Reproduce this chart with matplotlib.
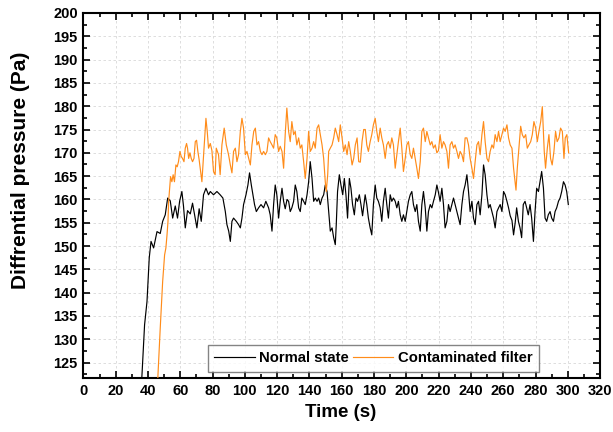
import matplotlib
matplotlib.use("Agg")
import matplotlib.pyplot as plt
from matplotlib.ticker import MultipleLocator

plt.rcParams['font.family'] = ['Liberation Sans', 'DejaVu Sans']

# ---------------- data ----------------
t_normal = [35.5, 36.3, 37.9, 39.4, 40.8, 41.9, 43.5, 45.6, 47.6, 49.1, 50.7, 52.2, 53.8, 55.3, 56.9,
            58.3, 59.6, 61.0, 62.0, 63.1, 64.5, 66.2, 67.6, 68.8, 70.3, 71.7, 73.0, 74.4, 75.9, 77.5,
            78.6, 80.6, 82.7, 84.7, 86.4, 87.9, 88.9, 90.0, 91.0, 92.0, 93.0, 94.7, 96.1, 97.2, 98.2,
            99.2, 100.7, 101.9, 102.9, 104.0, 105.0, 106.0, 107.1, 108.5, 110.0, 111.6, 113.0, 114.7,
            115.7, 116.8, 117.8, 118.8, 119.8, 120.9, 121.9, 123.0, 124.0, 125.0, 126.1, 127.1, 128.1,
            129.1, 130.2, 131.2, 132.2, 133.3, 134.3, 135.3, 136.4, 137.4, 138.5, 139.5, 140.5, 141.6,
            142.6, 143.6, 144.7, 145.7, 146.7, 147.8, 148.8, 149.8, 150.9, 151.9, 152.9, 154.0, 155.0,
            156.0, 156.6, 157.4, 158.5, 159.5, 160.6, 161.6, 162.6, 163.6, 164.7, 165.7, 166.7, 167.8,
            168.8, 169.8, 170.9, 171.9, 172.9, 174.5, 175.5, 176.5, 177.6, 178.6, 179.6, 180.7, 181.7,
            182.7, 183.8, 184.8, 185.8, 186.9, 187.9, 188.9, 190.0, 191.0, 192.0, 193.1, 194.1, 195.1,
            196.2, 197.2, 198.2, 199.3, 200.3, 201.3, 202.4, 203.4, 204.4, 205.5, 206.5, 207.5, 208.6,
            209.6, 210.6, 211.7, 212.7, 213.7, 214.8, 215.8, 216.8, 217.9, 218.9, 219.9, 220.9, 222.0,
            223.0, 224.0, 225.1, 226.1, 227.1, 228.2, 229.2, 230.2, 231.3, 232.3, 233.3, 234.4, 235.4,
            236.4, 237.5, 238.5, 239.5, 240.6, 241.6, 242.6, 243.7, 244.7, 245.7, 246.8, 247.8, 248.8,
            249.9, 250.9, 251.9, 253.0, 254.0, 255.0, 256.1, 257.1, 258.1, 259.2, 260.2, 261.2, 262.3,
            263.3, 264.3, 265.4, 266.4, 267.4, 268.3, 269.4, 270.4, 271.4, 272.4, 273.5, 274.5, 275.5,
            276.6, 277.6, 278.7, 279.7, 280.7, 281.8, 282.8, 283.8, 284.9, 285.9, 286.9, 287.9, 289.0,
            290.0, 291.1, 292.1, 293.1, 294.2, 295.2, 296.2, 297.3, 298.3, 299.3, 300.3]
p_normal = [118.0, 122.4, 133.1, 138.1, 147.5, 151.0, 149.6, 153.1, 152.7, 155.3, 156.7, 160.3, 159.7, 156.0, 158.6,
            156.0, 159.6, 161.7, 158.6, 153.9, 157.6, 156.9, 159.2, 156.9, 153.9, 158.0, 155.3, 161.0, 162.4, 161.0,
            161.7, 161.0, 161.7, 161.0, 160.3, 157.4, 154.6, 153.2, 151.0, 155.3, 156.0, 155.3, 154.6, 153.9, 156.0,
            158.9, 161.0, 163.1, 165.7, 163.1, 161.0, 158.9, 157.4, 158.2, 158.9, 158.2, 159.6, 158.2,
            156.7, 153.2, 158.9, 163.1, 161.0, 156.0, 159.6, 162.4, 159.6, 158.0, 160.0, 159.6, 157.4,
            158.2, 159.6, 163.1, 161.7, 158.2, 157.4, 160.3, 159.6, 158.9, 161.0, 163.8, 168.1, 164.5,
            159.6, 160.3, 159.6, 160.3, 158.9, 160.3, 161.0, 163.1, 161.7, 157.4, 153.2, 153.9, 151.8,
            150.3, 154.6, 161.7, 165.3, 163.1, 161.0, 164.5, 161.0, 156.0, 164.5, 162.4, 158.9, 156.7,
            160.3, 159.6, 161.0, 158.9, 156.5, 161.0, 158.9, 156.0, 153.9, 152.4, 158.9, 163.1, 160.3,
            159.6, 158.2, 155.3, 159.6, 162.4, 158.9, 156.0, 161.0, 159.6, 160.3, 159.6, 158.2, 159.6,
            156.7, 155.3, 156.7, 155.3, 157.4, 159.6, 161.0, 161.7, 158.9, 157.4, 158.9, 155.3, 153.2,
            158.9, 161.7, 158.2, 153.2, 157.4, 158.9, 158.2, 159.6, 161.0, 163.1, 161.5, 159.6, 162.4,
            158.9, 153.9, 155.3, 158.9, 157.4, 158.9, 160.3, 158.9, 157.4, 156.0, 154.6, 158.9, 161.7,
            163.1, 165.3, 161.7, 157.4, 159.6, 156.0, 154.6, 158.9, 159.6, 156.7, 161.0, 167.4, 165.3,
            161.0, 158.2, 158.9, 157.4, 156.0, 153.9, 157.4, 158.2, 158.9, 157.4, 161.7, 161.0, 159.6,
            158.2, 156.5, 155.5, 152.4, 155.0, 158.2, 155.3, 153.9, 151.8, 158.9, 159.6, 158.2, 156.7,
            158.9, 156.0, 151.0, 157.4, 162.4, 161.7, 163.8, 166.0, 162.4, 156.0, 155.3, 156.7, 157.4,
            156.0, 155.3, 157.4, 158.2, 159.6, 160.3, 161.7, 163.8, 163.1, 161.7, 158.9]

t_contaminated = [45.7, 46.2, 47.6, 49.1, 50.3, 51.1, 51.8, 52.4, 52.8, 53.4, 54.0, 54.8, 55.6, 56.4, 57.3,
                  58.1, 58.9, 59.8, 60.6, 61.4, 62.3, 63.1, 63.9, 64.5, 65.2, 66.0, 66.8, 67.6, 68.5, 69.3,
                  70.1, 70.9, 71.7, 72.6, 73.4, 74.2, 75.1, 75.9, 76.7, 77.5, 78.6, 79.6, 80.6, 81.6, 82.3,
                  83.7, 84.7, 85.8, 87.2, 88.5, 89.9, 91.0, 92.0, 93.0, 94.1, 95.1, 96.1, 97.2, 98.2, 99.2,
                  100.3, 101.3, 102.4, 103.4, 104.4, 105.5, 106.5, 107.5, 108.5, 109.6, 110.6, 111.6, 112.7,
                  113.7, 114.7, 115.7, 116.8, 117.8, 118.8, 119.8, 120.9, 121.9, 123.0, 124.0, 125.0, 126.0,
                  127.1, 128.1, 129.1, 130.2, 131.2, 132.2, 133.3, 134.3, 135.3, 136.4, 137.4, 138.5, 139.5,
                  140.5, 141.6, 142.6, 143.6, 144.7, 145.7, 146.7, 147.8, 148.8, 149.8, 150.4, 151.3, 151.9,
                  152.9, 154.0, 155.0, 156.0, 157.1, 158.1, 159.1, 160.2, 161.2, 162.2, 163.3, 164.3, 165.3,
                  166.4, 167.4, 168.4, 169.5, 170.5, 171.5, 172.6, 173.6, 174.6, 175.5, 176.5, 177.6, 178.6,
                  179.6, 180.7, 181.7, 182.7, 183.8, 184.8, 185.8, 186.9, 187.9, 188.9, 190.0, 191.0, 192.0,
                  193.1, 194.1, 195.1, 196.2, 197.2, 198.2, 199.3, 200.3, 201.3, 202.4, 203.4, 204.4, 205.5,
                  206.5, 207.5, 208.6, 209.6, 210.6, 211.7, 212.7, 213.7, 214.8, 215.8, 216.8, 217.9, 218.9,
                  219.9, 220.9, 222.0, 223.0, 224.0, 225.1, 226.1, 227.1, 228.2, 229.2, 230.2, 231.3, 232.3,
                  233.3, 234.4, 235.4, 236.4, 237.5, 238.5, 239.5, 240.6, 241.6, 242.6, 243.7, 244.7, 245.7,
                  246.8, 247.8, 248.8, 249.9, 250.9, 251.9, 253.0, 254.0, 255.0, 256.1, 257.1, 258.1, 259.2,
                  260.2, 261.2, 262.3, 263.3, 264.3, 265.4, 266.4, 267.9, 268.7, 269.9, 270.8, 271.8, 272.8,
                  273.9, 274.9, 275.9, 277.0, 278.0, 279.0, 280.1, 281.1, 282.1, 283.2, 284.2, 284.8, 285.4,
                  286.2, 287.3, 288.3, 289.3, 290.3, 291.4, 292.4, 293.4, 294.5, 295.5, 296.6, 297.6, 298.4,
                  299.4, 300.5]
p_contaminated = [118.0, 122.4, 132.4, 142.4, 148.1, 149.6, 152.4, 155.3, 159.6, 162.4, 164.9, 163.8, 165.3, 163.8, 167.4,
                  167.0, 168.1, 170.3, 169.2, 168.8, 168.1, 171.0, 172.0, 171.0, 168.8, 170.0, 168.8, 168.1, 168.8, 172.4,
                  172.7, 170.3, 168.5, 166.0, 163.8, 168.1, 173.2, 177.4, 174.6, 171.0, 172.0, 170.5, 166.0, 165.3, 171.0,
                  169.6, 165.3, 171.7, 175.3, 171.7, 169.6, 167.4, 165.7, 170.3, 171.0, 168.1, 169.6, 174.6, 177.4, 175.3,
                  169.6, 170.3, 168.8, 167.4, 171.7, 174.6, 175.3, 171.7, 172.4, 170.3, 169.6, 170.3, 169.6,
                  170.3, 173.2, 172.4, 171.7, 171.0, 173.9, 173.2, 170.3, 171.4, 170.3, 166.7, 174.0, 179.6,
                  174.6, 172.4, 176.7, 173.9, 174.6, 171.7, 173.2, 171.0, 171.7, 168.1, 164.5, 168.8, 174.6,
                  170.3, 171.0, 172.4, 171.0, 175.3, 176.0, 173.9, 171.7, 168.8, 163.8, 161.7, 165.3, 170.3,
                  171.0, 171.7, 173.2, 175.3, 173.9, 172.4, 176.0, 173.2, 170.3, 171.7, 169.6, 172.4, 170.3,
                  167.4, 168.8, 171.7, 173.2, 168.1, 168.0, 172.5, 175.0, 175.0, 171.7, 170.3, 172.4, 173.9,
                  176.0, 177.4, 174.6, 172.4, 175.3, 173.2, 171.7, 168.8, 171.7, 172.4, 171.0, 173.2, 171.7,
                  166.7, 169.6, 172.4, 175.3, 171.0, 166.0, 168.8, 171.7, 172.4, 169.6, 168.8, 171.0, 168.8,
                  166.7, 164.5, 168.1, 174.6, 175.3, 172.4, 174.6, 173.2, 171.7, 172.4, 171.0, 171.7, 170.0,
                  170.5, 173.9, 171.0, 172.4, 171.7, 170.3, 166.7, 171.7, 172.4, 171.0, 171.7, 170.3, 168.8,
                  170.3, 169.6, 168.1, 173.2, 173.2, 171.7, 168.8, 166.7, 164.5, 168.1, 171.7, 172.4, 169.6,
                  173.9, 176.7, 172.4, 168.8, 168.1, 170.3, 171.7, 171.0, 173.9, 172.4, 174.6, 172.4, 173.9,
                  175.3, 174.6, 176.0, 173.2, 171.7, 171.0, 166.7, 162.0, 166.7, 171.7, 175.7, 173.9, 173.2,
                  173.9, 171.0, 171.7, 172.4, 173.9, 176.7, 175.3, 172.4, 174.6, 176.7, 179.9, 175.3, 170.3,
                  166.7, 171.0, 173.9, 168.8, 167.4, 170.3, 174.6, 172.4, 173.2, 175.3, 174.6, 168.8, 173.2,
                  173.9, 170.0]

series_labels = ["Normal state", "Contaminated filter"]
x_ticks = list(range(0, 321, 20))
y_ticks = list(range(125, 201, 5))

# ---------------- figure ----------------
fig = plt.figure(figsize=(6.13, 4.32), dpi=100)
ax = fig.add_axes([0.136, 0.125, 0.843, 0.845])

ax.plot(t_normal, p_normal, color="black", lw=0.85, label=series_labels[0], zorder=3)
ax.plot(t_contaminated, p_contaminated, color="#FF8C1A", lw=0.85, label=series_labels[1], zorder=3)

ax.set_xlim(0, 320)
ax.set_ylim(121.7, 200)
ax.set_xticks(x_ticks)
ax.set_yticks(y_ticks)
ax.xaxis.set_minor_locator(MultipleLocator(10))
ax.yaxis.set_minor_locator(MultipleLocator(2.5))

ax.grid(True, which="major", linestyle=(0, (3, 3)), color="#d8d8d8", linewidth=0.6, zorder=0)

ax.tick_params(which="both", direction="in", top=True, right=True, width=1.2)
ax.tick_params(which="major", length=5, labelsize=10.5, pad=4)
ax.tick_params(which="minor", length=3)
for lbl in ax.get_xticklabels() + ax.get_yticklabels():
    lbl.set_fontweight("bold")
for s in ax.spines.values():
    s.set_linewidth(1.5)

ax.set_xlabel("Time (s)", fontsize=13.5, fontweight="bold")
ax.set_ylabel("Diffrential pressure (Pa)", fontsize=15, fontweight="bold")
ax.xaxis.set_label_coords(0.497, -0.07)
ax.yaxis.set_label_coords(-0.104, 0.57)

leg = ax.legend(loc="lower right", bbox_to_anchor=(0.882, 0.016), borderaxespad=0.0, ncol=2,
                frameon=True, fancybox=False, edgecolor="#666666", handlelength=2.7,
                handletextpad=0.3, columnspacing=0.3, borderpad=0.45,
                prop={"weight": "bold", "size": 10.7})
leg.get_frame().set_linewidth(1.0)

fig.savefig("out.png", dpi=100)
